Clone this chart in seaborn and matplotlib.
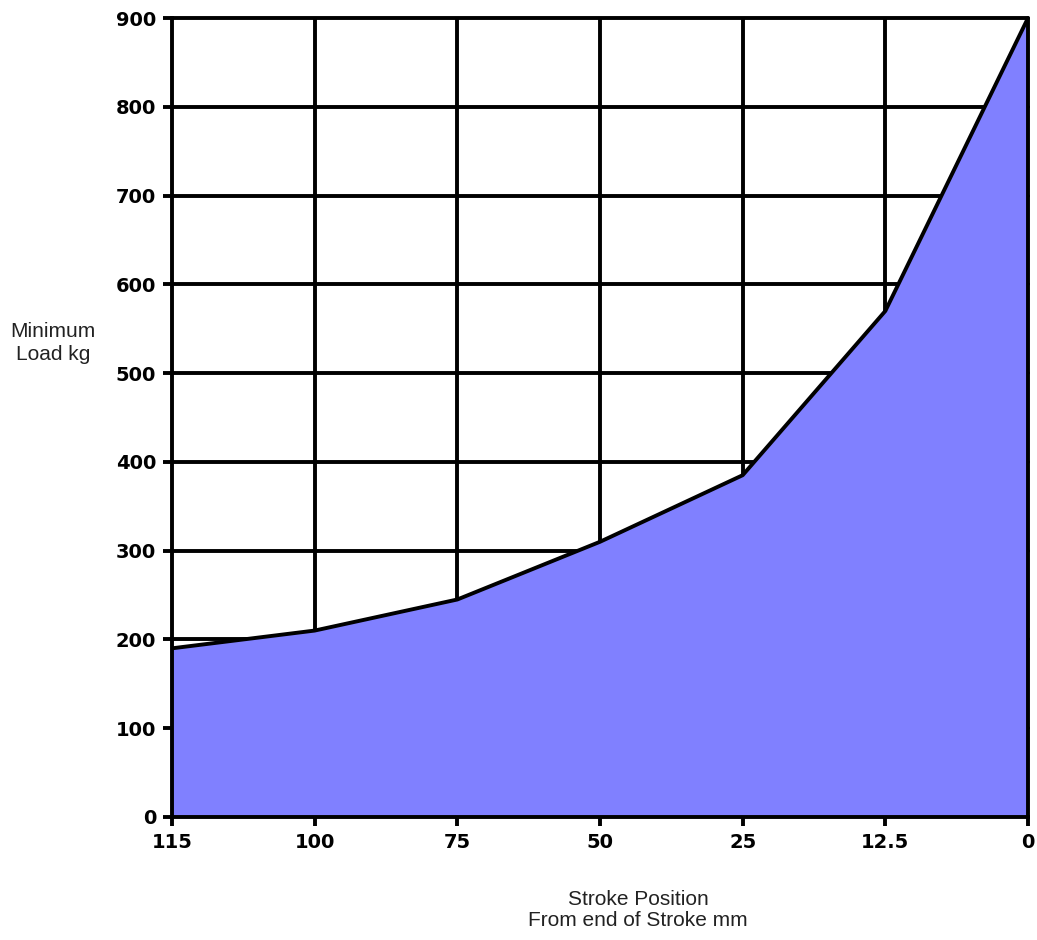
import matplotlib
matplotlib.use("Agg")
import matplotlib.pyplot as plt
import seaborn as sns
import pandas as pd
import numpy as np

categories = ["115", "100", "75", "50", "25", "12.5", "0"]
min_load = [190, 210, 245, 310, 385, 570, 900]
y_ticks = [0, 100, 200, 300, 400, 500, 600, 700, 800, 900]

sns.set_theme(style="white")
plt.rcParams['font.family'] = ['DejaVu Sans']

df = pd.DataFrame({"pos": np.arange(len(categories)), "load": min_load})

fig = plt.figure(figsize=(10.37, 9.4), dpi=100)
ax = fig.add_axes([172/1037, 1 - 817/940, (1028 - 172)/1037, (817 - 18)/940])

ax.set_xlim(0, len(categories) - 1)
ax.set_ylim(0, 900)

# grid
for yv in y_ticks[1:]:
    ax.axhline(yv, color="black", lw=2.8, zorder=1, clip_on=False)
for xv in df["pos"][1:-1]:
    ax.axvline(xv, color="black", lw=2.8, zorder=1)

ax.fill_between(df["pos"], 0, df["load"], color="#8080FF", zorder=2, lw=0)
sns.lineplot(data=df, x="pos", y="load", ax=ax, color="black", lw=2.8, zorder=3)
# right edge of the area outline
ax.axvline(df["pos"].iloc[-1], color="black", lw=2.8, zorder=3, clip_on=False)

ax.set_xticks(df["pos"])
ax.set_xticklabels(categories)
ax.set_yticks(y_ticks)
ax.tick_params(axis="both", direction="out", length=6.5, width=2.8, color="black",
               labelsize=14, pad=5, bottom=True, left=True)
for lab in ax.get_xticklabels() + ax.get_yticklabels():
    lab.set_fontweight("bold")
    lab.set_color("black")

for side in ["top", "right"]:
    ax.spines[side].set_visible(False)
for side in ["left", "bottom"]:
    ax.spines[side].set_color("black")
    ax.spines[side].set_linewidth(2.8)
    ax.spines[side].set_zorder(4)

ax.set_xlabel("")
ax.set_ylabel("")
fig.text(53/1037, 1 - 343/940, "Minimum\nLoad kg", ha="center", va="center",
         fontsize=15, family="Liberation Sans", color="#222222", linespacing=1.25)
fig.text(638/1037, 1 - 910/940, "Stroke Position\nFrom end of Stroke mm", ha="center",
         va="center", fontsize=15, family="Liberation Sans", color="#222222", linespacing=1.1)

fig.savefig("out.png", dpi=100)
